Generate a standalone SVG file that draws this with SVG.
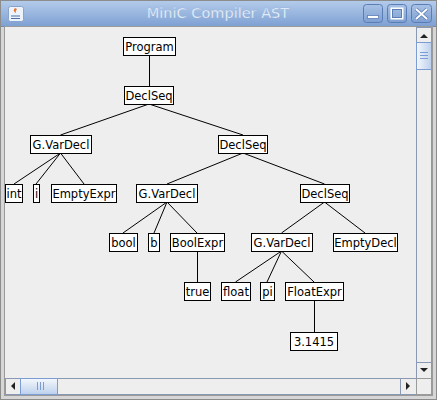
<svg xmlns="http://www.w3.org/2000/svg" width="437" height="400" viewBox="0 0 437 400">
<defs>
<linearGradient id="tb" x1="0" y1="0" x2="0" y2="1"><stop offset="0" stop-color="#b3cbea"/><stop offset="1" stop-color="#7c9fd2"/></linearGradient>
<linearGradient id="btn" x1="0" y1="0" x2="0" y2="1"><stop offset="0" stop-color="#a9c2e6"/><stop offset="1" stop-color="#7d9fd1"/></linearGradient>
<linearGradient id="thv" x1="0" y1="0" x2="1" y2="0"><stop offset="0" stop-color="#f4f8fd"/><stop offset="1" stop-color="#bcd0ec"/></linearGradient>
<linearGradient id="thh" x1="0" y1="0" x2="0" y2="1"><stop offset="0" stop-color="#f4f8fd"/><stop offset="1" stop-color="#bcd0ec"/></linearGradient>
<style>
.n rect{fill:#ffffff;stroke:#000000;stroke-width:1}
.n text{font-family:"DejaVu Sans",sans-serif;font-size:11.5px;fill:#000000;text-anchor:middle}
#edges line{stroke:#000000;stroke-width:1}
.sb{fill:#eeeeee;stroke:#8a99b3;stroke-width:1}
.arr{fill:#222222}
</style>
</defs>
<!-- window frame -->
<rect x="0" y="0" width="437" height="400" fill="#8c8c8c"/>
<rect x="1" y="1" width="435" height="398" fill="#d6d6d6"/>
<rect x="1" y="1" width="435" height="26" fill="url(#tb)"/>
<line x1="1" y1="26.5" x2="436" y2="26.5" stroke="#6d8cbc"/>
<rect x="4.5" y="26.5" width="428" height="369" fill="#eeeeee" stroke="#9a9a9a"/>
<!-- java icon -->
<rect x="8.5" y="6.5" width="15" height="15" rx="2" fill="#eef3fb" stroke="#8aa3c8"/>
<path d="M15 8 q-3 3 1 5 q-1 -2 1 -4" fill="#e8772e"/>
<path d="M11 16 h9 M11 18.5 h9" stroke="#4a6fa5" stroke-width="1.2"/>
<!-- title -->
<text x="218" y="18" font-family="DejaVu Sans,sans-serif" font-size="14.5" fill="#ffffff" stroke="#8fb0dc" stroke-width="0.4" text-anchor="middle">MiniC Compiler AST</text>
<!-- buttons -->
<g stroke="#5b7db5" fill="url(#btn)">
<rect x="363.5" y="4.5" width="19" height="18" rx="3"/>
<rect x="387.5" y="4.5" width="19" height="18" rx="3"/>
<rect x="411.5" y="4.5" width="20" height="18" rx="3"/>
</g>
<g fill="#ffffff" stroke="#5b7db5" stroke-width="0.8">
<rect x="367.5" y="15.5" width="11" height="3"/>
<rect x="391.5" y="8.5" width="11" height="10" fill="none" stroke="#ffffff" stroke-width="2"/>
<rect x="392.5" y="9.5" width="9" height="8" fill="none" stroke="#5b7db5" stroke-width="1"/>
</g>
<path d="M416 9 L427 19 M427 9 L416 19" stroke="#5b7db5" stroke-width="3.4"/>
<path d="M416 9 L427 19 M427 9 L416 19" stroke="#ffffff" stroke-width="1.8"/>
<!-- vertical scrollbar -->
<rect class="sb" x="416.5" y="27.5" width="15" height="351"/>
<rect class="sb" x="416.5" y="27.5" width="15" height="15"/>
<path class="arr" d="M420 38 L428 38 L424 34 Z"/>
<rect x="416.5" y="42.5" width="15" height="27" fill="url(#thv)" stroke="#7c9cd4"/>
<path d="M420 52.5 h8 M420 55.5 h8 M420 58.5 h8" stroke="#7c9cd4"/>
<rect class="sb" x="416.5" y="362.5" width="15" height="16"/>
<path class="arr" d="M420 368 L428 368 L424 372 Z"/>
<!-- horizontal scrollbar -->
<rect class="sb" x="5.5" y="378.5" width="411" height="16"/>
<rect class="sb" x="5.5" y="378.5" width="15" height="16"/>
<path class="arr" d="M15 382 L15 390 L11 386 Z"/>
<rect x="20.5" y="378.5" width="37" height="16" fill="url(#thh)" stroke="#7c9cd4"/>
<path d="M37.5 382 v8 M40.5 382 v8 M43.5 382 v8" stroke="#7c9cd4"/>
<rect class="sb" x="400.5" y="378.5" width="16" height="16"/>
<path class="arr" d="M406 382 L406 390 L410 386 Z"/>
<rect x="416.5" y="378.5" width="15" height="16" fill="#eeeeee" stroke="#9a9a9a"/>

<g id="edges">
<line x1="149.5" y1="56" x2="149.5" y2="86"/>
<line x1="149" y1="104" x2="60.5" y2="135"/>
<line x1="149" y1="104" x2="243" y2="135"/>
<line x1="60.5" y1="153" x2="14" y2="184"/>
<line x1="60.5" y1="153" x2="36" y2="184"/>
<line x1="60.5" y1="153" x2="84" y2="184"/>
<line x1="243" y1="153" x2="167" y2="184"/>
<line x1="243" y1="153" x2="324.5" y2="184"/>
<line x1="167" y1="202" x2="123" y2="233"/>
<line x1="167" y1="202" x2="154" y2="233"/>
<line x1="167" y1="202" x2="197" y2="233"/>
<line x1="324.5" y1="202" x2="281.5" y2="233"/>
<line x1="324.5" y1="202" x2="365" y2="233"/>
<line x1="197.5" y1="251" x2="197.5" y2="282"/>
<line x1="281.5" y1="251" x2="235.5" y2="282"/>
<line x1="281.5" y1="251" x2="267" y2="282"/>
<line x1="281.5" y1="251" x2="314" y2="282"/>
<line x1="314.5" y1="300" x2="314.5" y2="332"/>
</g>

<g id="n-program" class="n"><rect x="123.5" y="37.5" width="52" height="18"/><text x="149.5" y="51">Program</text></g>
<g id="n-declseq1" class="n"><rect x="124.5" y="86.5" width="49" height="18"/><text x="149" y="100">DeclSeq</text></g>
<g id="n-gvardecl1" class="n"><rect x="30.5" y="135.5" width="61" height="18"/><text x="61" y="149">G.VarDecl</text></g>
<g id="n-declseq2" class="n"><rect x="218.5" y="135.5" width="49" height="18"/><text x="243" y="149">DeclSeq</text></g>
<g id="n-int" class="n"><rect x="5.5" y="184.5" width="17" height="18"/><text x="14" y="198">int</text></g>
<g id="n-i" class="n"><rect x="33.5" y="184.5" width="6" height="18"/><text x="36.5" y="198">i</text></g>
<g id="n-emptyexpr" class="n"><rect x="51.5" y="184.5" width="65" height="18"/><text x="84" y="198">EmptyExpr</text></g>
<g id="n-gvardecl2" class="n"><rect x="136.5" y="184.5" width="61" height="18"/><text x="167" y="198">G.VarDecl</text></g>
<g id="n-declseq3" class="n"><rect x="300.5" y="184.5" width="49" height="18"/><text x="325" y="198">DeclSeq</text></g>
<g id="n-bool" class="n"><rect x="109.5" y="233.5" width="28" height="18"/><text x="123.5" y="247">bool</text></g>
<g id="n-b" class="n"><rect x="148.5" y="233.5" width="11" height="18"/><text x="154" y="247">b</text></g>
<g id="n-boolexpr" class="n"><rect x="170.5" y="233.5" width="54" height="18"/><text x="197.5" y="247">BoolExpr</text></g>
<g id="n-gvardecl3" class="n"><rect x="251.5" y="233.5" width="61" height="18"/><text x="282" y="247">G.VarDecl</text></g>
<g id="n-emptydecl" class="n"><rect x="333.5" y="233.5" width="64" height="18"/><text x="365.5" y="247">EmptyDecl</text></g>
<g id="n-true" class="n"><rect x="184.5" y="282.5" width="26" height="18"/><text x="197.5" y="296">true</text></g>
<g id="n-float" class="n"><rect x="221.5" y="282.5" width="29" height="18"/><text x="236" y="296">float</text></g>
<g id="n-pi" class="n"><rect x="260.5" y="282.5" width="14" height="18"/><text x="267.5" y="296">pi</text></g>
<g id="n-floatexpr" class="n"><rect x="285.5" y="282.5" width="58" height="18"/><text x="314.5" y="296">FloatExpr</text></g>
<g id="n-3-1415" class="n"><rect x="290.5" y="332.5" width="47" height="18"/><text x="314" y="346">3.1415</text></g>
</svg>
